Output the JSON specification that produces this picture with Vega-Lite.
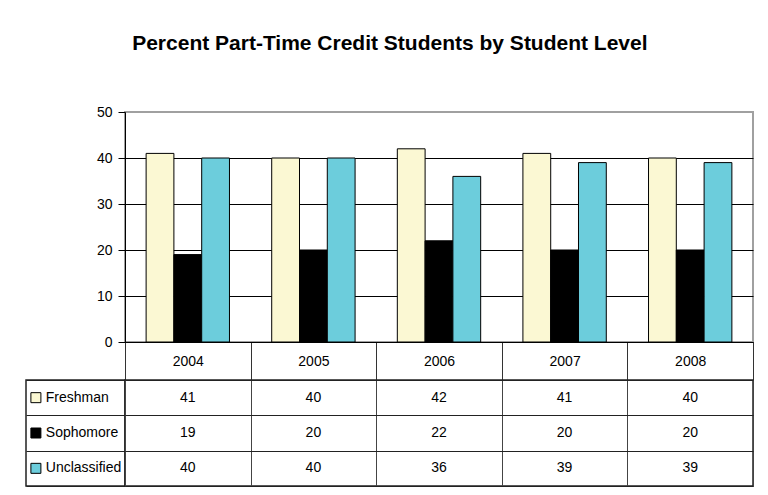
{
  "$schema": "https://vega.github.io/schema/vega-lite/v6.json",
  "padding": {"left": 25, "top": 33, "right": 5, "bottom": 2},
  "title": {"text": "Percent Part-Time Credit Students by Student Level", "fontSize": 21, "fontWeight": "bold", "font": "Liberation Sans", "color": "black", "anchor": "middle", "offset": 50},
  "config": {"font": "Liberation Sans", "axis": {"labelColor": "black", "labelFontSize": 14, "labelFont": "Liberation Sans", "titleColor": "black"}},
  "datasets": {
    "rows": [
      {"year": "2004", "series": "Freshman", "value": 41},
      {"year": "2004", "series": "Sophomore", "value": 19},
      {"year": "2004", "series": "Unclassified", "value": 40},
      {"year": "2005", "series": "Freshman", "value": 40},
      {"year": "2005", "series": "Sophomore", "value": 20},
      {"year": "2005", "series": "Unclassified", "value": 40},
      {"year": "2006", "series": "Freshman", "value": 42},
      {"year": "2006", "series": "Sophomore", "value": 22},
      {"year": "2006", "series": "Unclassified", "value": 36},
      {"year": "2007", "series": "Freshman", "value": 41},
      {"year": "2007", "series": "Sophomore", "value": 20},
      {"year": "2007", "series": "Unclassified", "value": 39},
      {"year": "2008", "series": "Freshman", "value": 40},
      {"year": "2008", "series": "Sophomore", "value": 20},
      {"year": "2008", "series": "Unclassified", "value": 39}
    ],
    "levels": [
      {"series": "Freshman"},
      {"series": "Sophomore"},
      {"series": "Unclassified"}
    ]
  },
  "columns": 2,
  "spacing": {"row": 38, "column": 0},
  "bounds": "flush",
  "resolve": {"scale": {"x": "independent", "y": "independent", "color": "shared"}},
  "concat": [
    {
      "width": 99, "height": 230,
      "data": {"values": []},
      "mark": "text",
      "encoding": {},
      "view": {"stroke": null}
    },
    {
      "width": 628, "height": 230,
      "data": {"name": "rows"},
      "mark": {"type": "bar", "stroke": "black", "strokeWidth": 1},
      "encoding": {
        "x": {"field": "year", "type": "nominal", "scale": {"paddingInner": 0, "paddingOuter": 0},
          "axis": {"title": null, "labelAngle": 0, "tickBand": "extent", "tickSize": 38, "tickColor": "#333", "tickWidth": 1, "domainColor": "black", "domainWidth": 1, "labelPadding": -19, "labelBaseline": "middle", "labelFontSize": 14}},
        "y": {"field": "value", "type": "quantitative", "scale": {"domain": [0, 50], "nice": false},
          "axis": {"title": null, "values": [0, 10, 20, 30, 40, 50], "grid": true, "gridColor": {"condition": {"test": "datum.value === 50", "value": "#a0a0a0"}, "value": "black"}, "gridWidth": 1, "gridOpacity": 1, "domainColor": "black", "tickColor": "black", "tickSize": 7, "labelPadding": 6, "labelFontSize": 14}},
        "xOffset": {"field": "series", "type": "nominal", "scale": {"domain": ["Freshman", "Sophomore", "Unclassified"], "paddingInner": 0, "paddingOuter": 0.76}},
        "color": {"field": "series", "type": "nominal", "scale": {"domain": ["Freshman", "Sophomore", "Unclassified"], "range": ["#FBF8D3", "#000000", "#6CCDDC"]}, "legend": null}
      },
      "view": {"stroke": "#a0a0a0", "strokeWidth": 2}
    },
    {
      "width": 99, "height": 106,
      "data": {"name": "levels"},
      "encoding": {
        "y": {"field": "series", "type": "nominal", "sort": ["Freshman", "Sophomore", "Unclassified"], "scale": {"paddingInner": 0, "paddingOuter": 0},
          "axis": {"title": null, "grid": true, "tickBand": "extent", "labels": false, "ticks": false, "domain": false, "gridColor": "#222", "gridWidth": 1, "gridOpacity": 1}}
      },
      "layer": [
        {
          "mark": {"type": "square", "size": 100, "filled": true, "stroke": "black", "strokeWidth": 1, "opacity": 1},
          "encoding": {
            "x": {"datum": 1, "type": "quantitative", "scale": {"domain": [0, 10]}, "axis": null},
            "color": {"field": "series", "type": "nominal", "legend": null}
          }
        },
        {
          "mark": {"type": "text", "align": "left", "baseline": "middle", "fontSize": 14, "color": "black"},
          "encoding": {
            "x": {"datum": 2, "type": "quantitative"},
            "text": {"field": "series"}
          }
        }
      ],
      "view": {"stroke": "#222", "strokeWidth": 1.5}
    },
    {
      "width": 628, "height": 106,
      "data": {"name": "rows"},
      "mark": {"type": "text", "fontSize": 14, "color": "black", "baseline": "middle"},
      "encoding": {
        "x": {"field": "year", "type": "nominal", "scale": {"paddingInner": 0, "paddingOuter": 0},
          "axis": {"title": null, "grid": true, "tickBand": "extent", "labels": false, "ticks": false, "domain": false, "gridColor": "#444", "gridWidth": 1, "gridOpacity": 1}},
        "y": {"field": "series", "type": "nominal", "sort": ["Freshman", "Sophomore", "Unclassified"], "scale": {"paddingInner": 0, "paddingOuter": 0},
          "axis": {"title": null, "grid": true, "tickBand": "extent", "labels": false, "ticks": false, "domain": false, "gridColor": "#222", "gridWidth": 1, "gridOpacity": 1}},
        "text": {"field": "value", "type": "quantitative"}
      },
      "view": {"stroke": "#222", "strokeWidth": 1.5}
    }
  ]
}
